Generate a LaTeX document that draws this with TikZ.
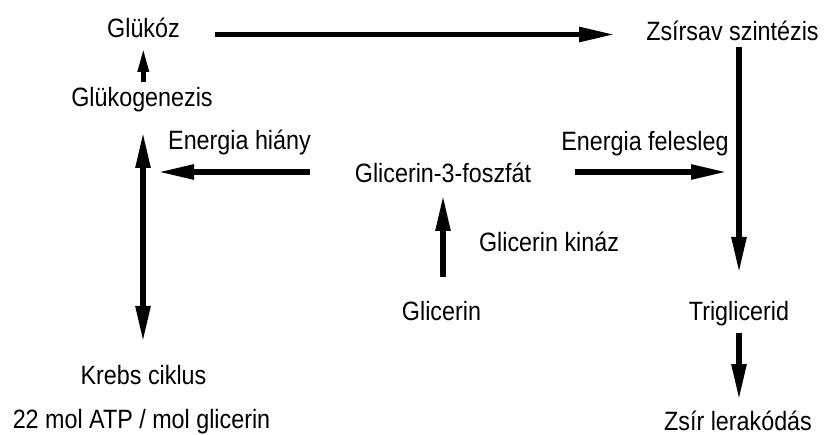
\documentclass[tikz,border=0pt]{standalone}
\usepackage{fontspec}
\setmainfont{Liberation Sans}[FakeStretch=0.88]
\usetikzlibrary{arrows.meta}
\begin{document}
\begin{tikzpicture}[x=1pt,y=-1pt,
  lbl/.style={anchor=base,inner sep=0pt,font=\fontsize{26.5}{30}\selectfont},
  arr/.style={line width=5.5pt,-{Triangle[length=36pt,width=14pt]}},
  dblarr/.style={line width=5.5pt,{Triangle[length=36pt,width=14pt]}-{Triangle[length=36pt,width=14pt]}},
  smallarr/.style={line width=5.5pt,-{Triangle[length=26pt,width=10pt]}}]
\fill[white] (0,0) rectangle (832,435);
\useasboundingbox (0,0) rectangle (832,435);

% labels (x = centre, y = baseline)
\node[lbl] (glukoz)   at (143.5,37.5) {Glükóz};
\node[lbl] (zsirsav)  at (732.5,40.5) {Zsírsav szintézis};
\node[lbl] (glukogen) at (142,106.5)  {Glükogenezis};
\node[lbl] (hiany)    at (239.5,150)  {Energia hiány};
\node[lbl] (felesleg) at (645,150.5)  {Energia felesleg};
\node[lbl] (g3p)      at (443,182.5)  {Glicerin-3-foszfát};
\node[lbl] (kinaz)    at (549,251.5)  {Glicerin kináz};
\node[lbl] (glicerin) at (441.5,321)  {Glicerin};
\node[lbl] (triglic)  at (739,320.5)  {Triglicerid};
\node[lbl] (krebs)    at (143.5,384)  {Krebs ciklus};
\node[lbl] (atp)      at (141.5,428)  {22 mol ATP / mol glicerin};
\node[lbl] (zsir)     at (738,430)    {Zsír lerakódás};

% open ends of the two energy branches
\coordinate (hianyEnd) at (158,172);
\coordinate (felesEnd) at (727,172);

% connectors
\draw[arr] ([xshift=71.5pt,yshift=3pt]glukoz.base) -- ([xshift=-117.5pt,yshift=6pt]zsirsav.base);
\draw[smallarr] ([xshift=1.3pt,yshift=24.8pt]glukogen.base) -- ([xshift=-0.2pt,yshift=-8.5pt]glukoz.base);
\draw[dblarr] ([xshift=1pt,yshift=-25.5pt]glukogen.base) -- ([xshift=-0.5pt,yshift=42pt]krebs.base);
\draw[arr] ([xshift=-133pt,yshift=10.5pt]g3p.base) -- (hianyEnd);
\draw[arr] ([xshift=132pt,yshift=10.5pt]g3p.base) -- (felesEnd);
\draw[arr] ([xshift=6.5pt,yshift=-6.5pt]zsirsav.base) -- ([yshift=47.5pt]triglic.base);
\draw[arr] ([yshift=-12.5pt]triglic.base) -- ([xshift=1pt,yshift=30pt]zsir.base);
\draw[arr] ([xshift=1.5pt,yshift=44pt]glicerin.base) -- ([yshift=-12.5pt]g3p.base);
\end{tikzpicture}
\end{document}
